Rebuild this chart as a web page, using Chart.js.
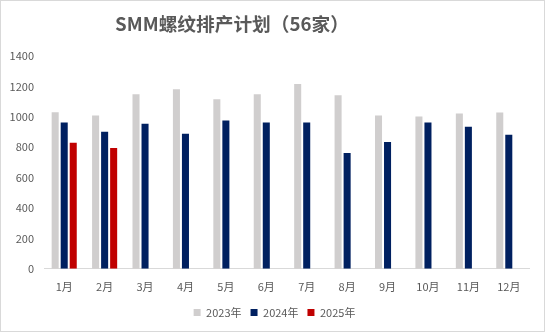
<!DOCTYPE html>
<html lang="zh-CN">
<head>
<meta charset="utf-8">
<title>SMM螺纹排产计划（56家）</title>
<script src="https://cdn.jsdelivr.net/npm/chart.js@4.4.0/dist/chart.umd.min.js"></script>
<style>
    html, body { margin: 0; padding: 0; background: #fff; }
    .chart-box {
        position: relative;
        width: 545px;
        height: 332px;
        font-family: "Noto Sans CJK SC", "Noto Sans", sans-serif;
    }
    .chart-box canvas { position: absolute; left: 0; top: 0; }
    .chart-title {
        position: absolute;
        left: 0;
        width: 464px;
        top: 10px;
        margin: 0;
        text-align: center;
        font-size: 18.7px;
        font-weight: bold;
        line-height: 26px;
        color: #595959;
    }
    .chart-frame {
        position: absolute;
        inset: 0;
        border: 1px solid #d9d9d9;
        pointer-events: none;
    }
</style>
</head>
<body>
<div class="chart-box">
    <canvas id="rebarChart" width="545" height="332"></canvas>
    <h1 class="chart-title">SMM螺纹排产计划（56家）</h1>
    <div class="chart-frame"></div>
</div>
<script>
// Monthly rebar production schedule, 56 mills
const months = ['1月', '2月', '3月', '4月', '5月', '6月', '7月', '8月', '9月', '10月', '11月', '12月'];
const plan2023 = [1030, 1009, 1149, 1182, 1115, 1149, 1215, 1142, 1009, 1002, 1022, 1029];
const plan2024 = [962, 902, 955, 889, 975, 962, 962, 762, 835, 962, 935, 882];
const plan2025 = [829, 795, null, null, null, null, null, null, null, null, null, null];
const yTicks = [0, 200, 400, 600, 800, 1000, 1200, 1400];

const textColor = '#595959';
const tickFont = { family: '"Noto Sans CJK SC", "Noto Sans", sans-serif', size: 11 };

function series(label, data, color) {
    return {
        label: label,
        data: data,
        backgroundColor: color,
        borderWidth: 0,
        barPercentage: 0.78,
        categoryPercentage: 0.67
    };
}

// nudge the legend right and up a bit once the layout is done
const legendShift = {
    id: 'legendShift',
    afterLayout(chart) {
        const legend = chart.legend;
        if (!legend) return;
        legend.left += 10;
        legend.right += 10;
        legend.top -= 6;
        legend.bottom -= 6;
    }
};

const ctx = document.getElementById('rebarChart').getContext('2d');

new Chart(ctx, {
    type: 'bar',
    data: {
        labels: months,
        datasets: [
            series('2023年', plan2023, '#d0cece'),
            series('2024年', plan2024, '#002060'),
            series('2025年', plan2025, '#c00000')
        ]
    },
    plugins: [legendShift],
    options: {
        responsive: false,
        animation: false,
        layout: {
            padding: { top: 56, right: 16, bottom: -2, left: 0 }
        },
        plugins: {
            title: { display: false },
            tooltip: { enabled: false },
            legend: {
                position: 'bottom',
                labels: {
                    boxWidth: 7,
                    boxHeight: 7,
                    padding: 9,
                    color: textColor,
                    font: tickFont
                }
            }
        },
        scales: {
            x: {
                grid: { display: false, drawTicks: false },
                border: { display: true, color: '#d9d9d9', width: 1 },
                ticks: {
                    color: textColor,
                    font: tickFont,
                    padding: 11,
                    maxRotation: 0,
                    autoSkip: false
                }
            },
            y: {
                min: 0,
                max: 1400,
                afterBuildTicks: axis => {
                    axis.ticks = yTicks.map(v => ({ value: v }));
                },
                afterFit: axis => {
                    axis.width = 44;
                },
                grid: { display: false, drawTicks: false },
                border: { display: false },
                ticks: {
                    color: textColor,
                    font: tickFont,
                    padding: 10,
                    callback: value => String(value)
                }
            }
        }
    }
});
</script>
</body>
</html>
